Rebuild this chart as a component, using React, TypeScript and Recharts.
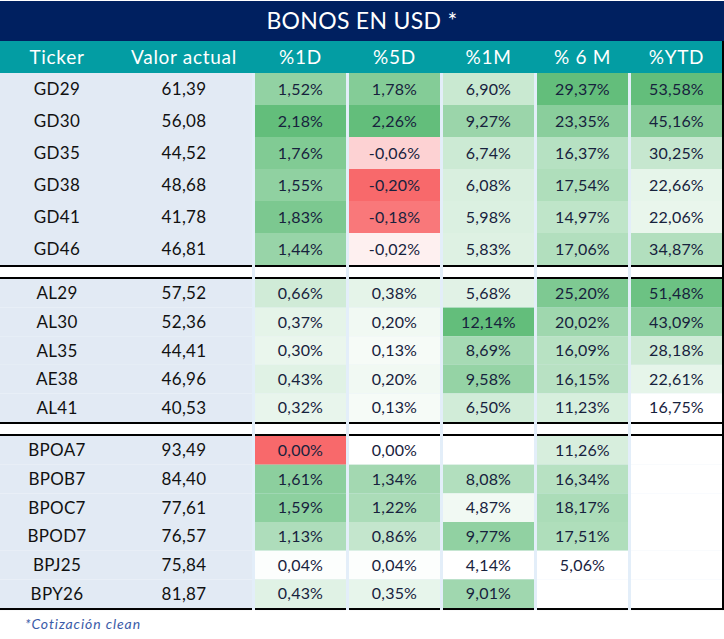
import { ScatterChart, Scatter, XAxis, YAxis } from "recharts";

const W = 724;
const H = 639;

const TITLE = "BONOS EN USD *";
const FOOTNOTE = "*Cotización clean";
const HEADERS = ["Ticker", "Valor actual", "%1D", "%5D", "%1M", "% 6 M", "%YTD"];

// filas por bloque
const TICKERS = [
  "GD29", "GD30", "GD35", "GD38", "GD41", "GD46",
  "AL29", "AL30", "AL35", "AE38", "AL41",
  "BPOA7", "BPOB7", "BPOC7", "BPOD7", "BPJ25", "BPY26",
];
const GROUP = [0, 0, 0, 0, 0, 0, 1, 1, 1, 1, 1, 2, 2, 2, 2, 2, 2];
const VALOR = [
  61.39, 56.08, 44.52, 48.68, 41.78, 46.81,
  57.52, 52.36, 44.41, 46.96, 40.53,
  93.49, 84.4, 77.61, 76.57, 75.84, 81.87,
];
// BPOA7 %1D: valor apenas negativo (se muestra 0,00% en rojo)
const PCT_1D = [
  1.52, 2.18, 1.76, 1.55, 1.83, 1.44,
  0.66, 0.37, 0.3, 0.43, 0.32,
  -0.001, 1.61, 1.59, 1.13, 0.04, 0.43,
];
const PCT_5D = [
  1.78, 2.26, -0.06, -0.2, -0.18, -0.02,
  0.38, 0.2, 0.13, 0.2, 0.13,
  0.0, 1.34, 1.22, 0.86, 0.04, 0.35,
];
const PCT_1M: (number | null)[] = [
  6.9, 9.27, 6.74, 6.08, 5.98, 5.83,
  5.68, 12.14, 8.69, 9.58, 6.5,
  null, 8.08, 4.87, 9.77, 4.14, 9.01,
];
const PCT_6M: (number | null)[] = [
  29.37, 23.35, 16.37, 17.54, 14.97, 17.06,
  25.2, 20.02, 16.09, 16.15, 11.23,
  11.26, 16.34, 18.17, 17.51, 5.06, null,
];
const PCT_YTD: (number | null)[] = [
  53.58, 45.16, 30.25, 22.66, 22.06, 34.87,
  51.48, 43.09, 28.18, 22.61, 16.75,
  null, null, null, null, null, null,
];
const PCT_COLS = [PCT_1D, PCT_5D, PCT_1M, PCT_6M, PCT_YTD];

// layout
const FONT = "Lato, 'Open Sans', sans-serif";
const TITLE_TOP = 1;
const HEADER_TOP = 41;
const BODY_TOP = 73;
const ROW_H = [32, 28.6, 28.67];
const SEP_H = 14;
const LEFT_W = 252;
const COL_X = [255, 349, 443, 537, 631];
const COL_W = 91;
const TEXT_CENTERS = [57, 184, 300.5, 394.5, 488.5, 582.5, 676.5];

const NAVY = "#002060";
const TEAL = "#039da3";
const LEFT_BG = "#e2eaf4";
const GAP_BG = "#e3eef9";
const GREEN = [99, 190, 123];
const RED = [248, 105, 107];

type Item = {
  x: number;
  y: number;
  w: number;
  h: number;
  fill: string;
  label?: string;
  color?: string;
  size?: number;
  spacing?: number;
  italic?: boolean;
  anchor?: "start" | "middle";
};

function mix(c: number[], t: number) {
  const k = Math.max(0, Math.min(1, t));
  const ch = c.map((v) => Math.round(255 + (v - 255) * k));
  return `rgb(${ch[0]},${ch[1]},${ch[2]})`;
}

function heat(v: number, col: (number | null)[]) {
  const vals = col.filter((d): d is number => d !== null);
  const lo = Math.min(...vals);
  const hi = Math.max(...vals);
  if (v < 0) return mix(RED, v / lo);
  const base = lo < 0 ? 0 : lo;
  return mix(GREEN, (v - base) / (hi - base));
}

function fmt(v: number, pct: boolean) {
  let s = v.toFixed(2);
  if (s === "-0.00") s = "0.00";
  return s.replace(".", ",") + (pct ? "%" : "");
}

function buildItems() {
  const bg: Item[] = [];
  const cells: Item[] = [];
  const lines: Item[] = [];

  bg.push({ x: W / 2, y: (TITLE_TOP + HEADER_TOP) / 2, w: W, h: HEADER_TOP - TITLE_TOP, fill: NAVY, label: TITLE, color: "#ffffff", size: 23, spacing: 0.3 });
  bg.push({ x: W / 2, y: (HEADER_TOP + BODY_TOP) / 2, w: W, h: BODY_TOP - HEADER_TOP, fill: TEAL });
  HEADERS.forEach((h, i) => {
    cells.push({ x: TEXT_CENTERS[i], y: (HEADER_TOP + BODY_TOP) / 2, w: 0, h: 0, fill: "none", label: h, color: "#ffffff", size: 19, spacing: 0.7 });
  });

  // row tops
  const tops: number[] = [];
  let y = BODY_TOP;
  TICKERS.forEach((_, r) => {
    if (r > 0 && GROUP[r] !== GROUP[r - 1]) y += SEP_H;
    tops.push(y);
    y += ROW_H[GROUP[r]];
  });
  const bottom = y;

  // fondo de columnas (separadores celestes)
  bg.push({ x: (LEFT_W + W) / 2, y: (BODY_TOP + bottom + 2) / 2, w: W - LEFT_W, h: bottom + 2 - BODY_TOP, fill: GAP_BG });

  const segments = [{ x0: 0, x1: LEFT_W }, ...COL_X.map((x0) => ({ x0, x1: x0 + COL_W }))];

  TICKERS.forEach((t, r) => {
    const h = ROW_H[GROUP[r]];
    const cy = tops[r] + h / 2;
    cells.push({ x: LEFT_W / 2, y: cy, w: LEFT_W, h, fill: LEFT_BG });
    cells.push({ x: TEXT_CENTERS[0], y: cy, w: 0, h: 0, fill: "none", label: t, color: "#111111", size: 17, spacing: 0.3 });
    cells.push({ x: TEXT_CENTERS[1], y: cy, w: 0, h: 0, fill: "none", label: fmt(VALOR[r], false), color: "#111111", size: 17, spacing: 0.3 });
    PCT_COLS.forEach((col, c) => {
      const v = col[r];
      cells.push({
        x: COL_X[c] + COL_W / 2,
        y: cy,
        w: COL_W,
        h,
        fill: v === null ? "#ffffff" : heat(v, col),
        label: v === null ? undefined : fmt(v, true),
        color: "#17223d",
        size: 16,
        spacing: 0.2,
      });
    });

    const last = r === TICKERS.length - 1 || GROUP[r + 1] !== GROUP[r];
    if (last) {
      const yb = tops[r] + h;
      segments.forEach(({ x0, x1 }) => {
        const isYtd = x0 === COL_X[4];
        const w = isYtd ? W - x0 : x1 - x0;
        lines.push({ x: x0 + w / 2, y: yb + 1, w, h: 2, fill: "#000000" });
        if (r < TICKERS.length - 1) {
          lines.push({ x: x0 + w / 2, y: yb + 2 + (SEP_H - 4) / 2, w, h: SEP_H - 4, fill: "#ffffff" });
          lines.push({ x: x0 + w / 2, y: yb + SEP_H - 1, w, h: 2, fill: "#000000" });
        }
      });
    }
  });

  // borde derecho
  lines.push({ x: W - 1, y: (HEADER_TOP + bottom + 2) / 2, w: 2, h: bottom + 2 - HEADER_TOP, fill: "#000000" });

  cells.push({ x: 25, y: 624, w: 0, h: 0, fill: "none", label: FOOTNOTE, color: "#3b5ca8", size: 14, spacing: 0.9, italic: true, anchor: "start" });

  return { bg, cells, lines };
}

function Box(props: any) {
  const { cx, cy, payload } = props;
  const p = payload as Item;
  if (cx == null || cy == null) return null;
  return (
    <g>
      {p.fill !== "none" && p.w > 0 && (
        <rect x={cx - p.w / 2} y={cy - p.h / 2} width={p.w} height={p.h} fill={p.fill} />
      )}
      {p.label && (
        <text
          x={cx}
          y={cy}
          dy="0.36em"
          textAnchor={p.anchor ?? "middle"}
          fill={p.color}
          fontSize={p.size}
          fontFamily={FONT}
          letterSpacing={p.spacing ?? 0}
          fontStyle={p.italic ? "italic" : "normal"}
        >
          {p.label}
        </text>
      )}
    </g>
  );
}

export default function App() {
  const { bg, cells, lines } = buildItems();
  return (
    <div style={{ position: "absolute", left: 0, top: 0, width: W, height: H, background: "#ffffff" }}>
      <ScatterChart width={W} height={H} margin={{ top: 0, right: 0, bottom: 0, left: 0 }}>
        <XAxis type="number" dataKey="x" domain={[0, W]} allowDataOverflow hide />
        <YAxis type="number" dataKey="y" domain={[0, H]} reversed allowDataOverflow hide />
        <Scatter data={bg} shape={(p: any) => <Box {...p} />} isAnimationActive={false} />
        <Scatter data={cells} shape={(p: any) => <Box {...p} />} isAnimationActive={false} />
        <Scatter data={lines} shape={(p: any) => <Box {...p} />} isAnimationActive={false} />
      </ScatterChart>
    </div>
  );
}
